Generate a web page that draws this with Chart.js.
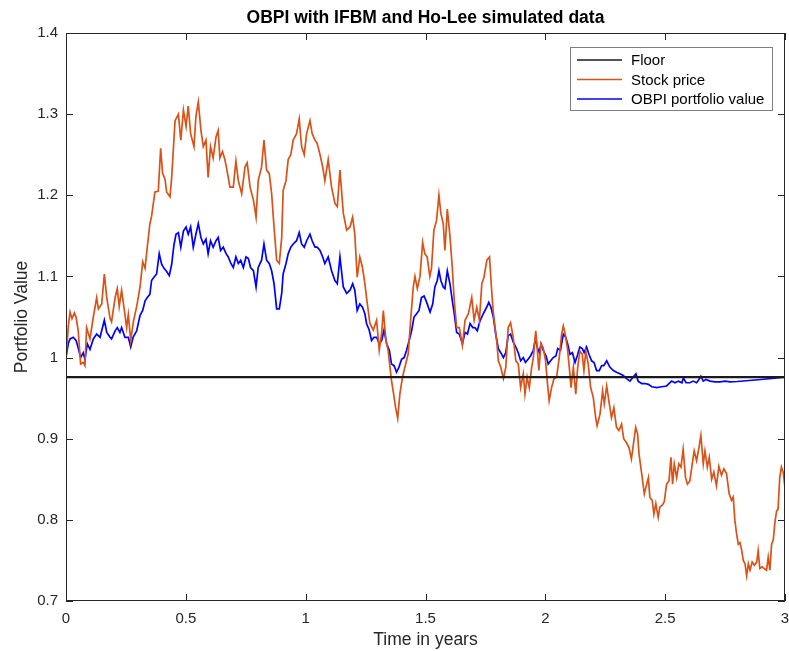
<!DOCTYPE html>
<html>
<head>
<meta charset="utf-8">
<script src="https://cdn.jsdelivr.net/npm/chart.js@4.4.1/dist/chart.umd.min.js"></script>
<style>
  html, body { margin: 0; padding: 0; background: #fff; }
  #wrap { width: 789px; height: 651px; }
</style>
</head>
<body>
<div id="wrap"><canvas id="myChart" width="789" height="651"></canvas></div>
<script>
// time in years / values
const stockTime = [0.000,0.010,0.017,0.025,0.035,0.042,0.051,0.061,0.072,0.079,0.086,0.100,0.114,0.128,0.135,0.149,0.160,0.170,0.184,0.190,0.205,0.214,0.222,0.232,0.246,0.253,0.260,0.270,0.281,0.295,0.309,0.320,0.330,0.339,0.350,0.357,0.371,0.385,0.395,0.403,0.413,0.420,0.434,0.441,0.455,0.469,0.479,0.490,0.501,0.510,0.520,0.534,0.542,0.552,0.563,0.573,0.584,0.593,0.603,0.614,0.626,0.635,0.642,0.653,0.663,0.674,0.684,0.698,0.709,0.719,0.733,0.747,0.756,0.768,0.782,0.793,0.802,0.816,0.826,0.837,0.848,0.858,0.868,0.879,0.890,0.900,0.906,0.918,0.927,0.938,0.948,0.962,0.973,0.983,0.994,1.004,1.018,1.027,1.039,1.048,1.060,1.071,1.080,1.094,1.108,1.122,1.132,1.143,1.157,1.171,1.185,1.196,1.205,1.215,1.226,1.237,1.247,1.254,1.268,1.282,1.296,1.307,1.317,1.324,1.335,1.344,1.358,1.365,1.375,1.384,1.393,1.404,1.414,1.428,1.438,1.449,1.456,1.466,1.477,1.488,1.497,1.507,1.518,1.525,1.535,1.546,1.556,1.564,1.574,1.581,1.591,1.602,1.612,1.620,1.630,1.641,1.654,1.665,1.679,1.693,1.703,1.714,1.725,1.735,1.744,1.756,1.767,1.776,1.783,1.797,1.804,1.814,1.825,1.835,1.845,1.855,1.866,1.877,1.887,1.897,1.908,1.915,1.924,1.933,1.943,1.950,1.960,1.966,1.973,1.982,1.991,2.001,2.008,2.016,2.026,2.036,2.047,2.058,2.068,2.075,2.083,2.092,2.100,2.107,2.117,2.127,2.135,2.144,2.154,2.161,2.169,2.179,2.189,2.200,2.210,2.216,2.228,2.239,2.246,2.256,2.265,2.276,2.286,2.297,2.307,2.318,2.327,2.339,2.349,2.359,2.366,2.377,2.385,2.391,2.402,2.413,2.423,2.430,2.436,2.446,2.453,2.461,2.471,2.478,2.488,2.496,2.506,2.516,2.524,2.531,2.538,2.548,2.557,2.566,2.575,2.585,2.593,2.603,2.613,2.621,2.631,2.641,2.649,2.659,2.666,2.676,2.684,2.694,2.703,2.714,2.724,2.735,2.745,2.756,2.767,2.777,2.784,2.791,2.798,2.805,2.812,2.819,2.826,2.833,2.840,2.847,2.854,2.863,2.872,2.882,2.888,2.895,2.905,2.913,2.923,2.930,2.937,2.944,2.951,2.958,2.965,2.971,2.978,2.985,2.992,3.000];
const stockPrice = [1.000,1.040,1.056,1.048,1.055,1.050,1.033,0.992,0.994,0.990,1.037,1.023,1.050,1.074,1.060,1.066,1.103,1.074,1.048,1.044,1.074,1.085,1.063,1.083,1.053,1.037,1.053,1.021,1.044,1.063,1.087,1.118,1.110,1.136,1.165,1.174,1.204,1.205,1.258,1.227,1.220,1.204,1.198,1.222,1.292,1.300,1.268,1.305,1.285,1.310,1.276,1.260,1.297,1.315,1.280,1.260,1.268,1.222,1.260,1.246,1.272,1.280,1.246,1.254,1.244,1.227,1.210,1.210,1.242,1.218,1.202,1.235,1.240,1.210,1.194,1.173,1.218,1.235,1.268,1.231,1.227,1.202,1.161,1.120,1.116,1.148,1.206,1.218,1.244,1.250,1.268,1.276,1.294,1.260,1.250,1.276,1.292,1.276,1.268,1.264,1.250,1.235,1.218,1.244,1.210,1.190,1.186,1.231,1.178,1.157,1.161,1.173,1.152,1.099,1.124,1.111,1.091,1.074,1.042,1.034,1.046,1.009,1.030,1.058,1.021,1.009,0.972,0.959,0.939,0.925,0.955,0.976,0.988,1.005,1.046,1.087,1.100,1.085,1.100,1.142,1.128,1.124,1.100,1.110,1.157,1.169,1.200,1.178,1.165,1.132,1.183,1.150,1.110,1.070,1.037,1.037,1.015,1.046,1.054,1.074,1.046,1.062,1.046,1.091,1.099,1.120,1.124,1.083,1.055,1.021,0.996,0.988,0.974,0.988,1.037,1.043,1.025,0.996,0.992,0.963,0.980,0.955,0.976,0.963,0.988,1.000,1.033,1.012,0.984,1.017,1.012,0.996,0.971,0.947,0.963,0.974,0.976,1.000,1.029,1.039,1.029,1.012,0.988,0.963,0.988,0.955,0.988,1.008,1.004,0.984,1.008,0.992,0.963,0.951,0.926,0.916,0.930,0.959,0.943,0.965,0.947,0.926,0.938,0.914,0.910,0.918,0.900,0.895,0.889,0.875,0.890,0.914,0.906,0.881,0.857,0.832,0.844,0.852,0.828,0.824,0.807,0.820,0.803,0.816,0.818,0.822,0.844,0.848,0.877,0.844,0.869,0.852,0.869,0.865,0.887,0.852,0.844,0.848,0.869,0.885,0.873,0.889,0.904,0.869,0.885,0.865,0.877,0.850,0.859,0.842,0.866,0.855,0.863,0.857,0.832,0.824,0.828,0.799,0.783,0.770,0.772,0.763,0.750,0.746,0.731,0.746,0.738,0.748,0.744,0.748,0.762,0.740,0.742,0.740,0.738,0.754,0.738,0.770,0.775,0.797,0.811,0.813,0.852,0.865,0.859,0.840];

const obpiTime = [0.000,0.010,0.017,0.030,0.042,0.050,0.061,0.072,0.079,0.089,0.100,0.114,0.128,0.142,0.160,0.170,0.184,0.190,0.205,0.214,0.225,0.232,0.246,0.260,0.270,0.280,0.295,0.309,0.320,0.330,0.339,0.350,0.357,0.367,0.378,0.389,0.399,0.409,0.420,0.431,0.441,0.450,0.459,0.469,0.479,0.490,0.501,0.510,0.520,0.531,0.542,0.552,0.563,0.573,0.584,0.593,0.603,0.614,0.626,0.635,0.645,0.656,0.668,0.677,0.688,0.698,0.709,0.719,0.729,0.740,0.751,0.761,0.770,0.782,0.793,0.802,0.816,0.826,0.837,0.848,0.858,0.868,0.879,0.890,0.900,0.906,0.918,0.927,0.938,0.948,0.962,0.973,0.983,0.994,1.004,1.018,1.027,1.039,1.048,1.060,1.071,1.080,1.094,1.108,1.122,1.132,1.143,1.157,1.171,1.185,1.196,1.205,1.215,1.226,1.237,1.247,1.254,1.265,1.275,1.285,1.296,1.307,1.317,1.327,1.338,1.349,1.358,1.369,1.379,1.389,1.400,1.411,1.421,1.432,1.442,1.452,1.463,1.473,1.483,1.494,1.505,1.519,1.530,1.539,1.549,1.556,1.564,1.574,1.581,1.591,1.602,1.612,1.620,1.630,1.641,1.654,1.665,1.675,1.686,1.697,1.706,1.716,1.727,1.741,1.755,1.764,1.773,1.783,1.793,1.804,1.814,1.825,1.835,1.845,1.855,1.866,1.877,1.887,1.897,1.908,1.917,1.928,1.938,1.950,1.960,1.966,1.975,1.982,1.991,2.003,2.012,2.022,2.033,2.044,2.052,2.063,2.075,2.085,2.093,2.103,2.113,2.124,2.133,2.144,2.154,2.162,2.172,2.182,2.193,2.203,2.214,2.225,2.235,2.244,2.256,2.266,2.270,2.284,2.297,2.311,2.325,2.339,2.353,2.367,2.378,2.387,2.402,2.416,2.430,2.444,2.465,2.485,2.506,2.520,2.527,2.541,2.555,2.570,2.576,2.587,2.603,2.617,2.631,2.641,2.649,2.659,2.670,2.687,2.708,2.729,2.750,2.770,2.800,2.900,3.000];
const obpiValue = [1.000,1.018,1.023,1.025,1.021,1.013,1.000,1.006,0.998,1.017,1.010,1.023,1.029,1.025,1.046,1.031,1.025,1.023,1.033,1.037,1.031,1.037,1.025,1.025,1.013,1.025,1.033,1.052,1.058,1.070,1.074,1.078,1.095,1.099,1.103,1.128,1.115,1.110,1.106,1.101,1.115,1.138,1.152,1.154,1.136,1.156,1.161,1.152,1.161,1.136,1.152,1.165,1.148,1.140,1.146,1.128,1.144,1.136,1.144,1.148,1.132,1.136,1.128,1.124,1.116,1.111,1.124,1.116,1.120,1.111,1.124,1.122,1.111,1.107,1.087,1.111,1.120,1.140,1.120,1.116,1.107,1.091,1.060,1.060,1.079,1.103,1.116,1.128,1.136,1.140,1.144,1.154,1.140,1.136,1.144,1.152,1.144,1.136,1.136,1.132,1.124,1.116,1.124,1.107,1.095,1.091,1.124,1.087,1.079,1.083,1.091,1.083,1.058,1.066,1.062,1.054,1.042,1.034,1.021,1.025,1.025,1.017,1.021,1.034,1.017,1.009,0.992,0.990,0.982,0.988,0.998,1.000,1.009,1.021,1.033,1.050,1.054,1.058,1.074,1.076,1.068,1.056,1.066,1.087,1.095,1.107,1.095,1.087,1.085,1.107,1.091,1.070,1.054,1.031,1.029,1.017,1.031,1.029,1.042,1.037,1.037,1.033,1.045,1.054,1.062,1.068,1.062,1.050,1.029,1.011,1.006,1.000,1.006,1.027,1.029,1.019,1.013,1.006,0.996,1.000,0.994,0.998,1.002,1.009,1.025,1.013,1.006,1.017,1.009,1.002,0.992,0.996,1.000,1.002,1.011,1.009,1.029,1.025,1.017,1.004,1.006,0.994,1.002,1.013,1.011,1.006,1.013,1.004,0.996,0.994,0.984,0.984,0.990,0.990,0.996,0.990,0.988,0.984,0.982,0.980,0.978,0.974,0.971,0.976,0.980,0.971,0.968,0.968,0.967,0.964,0.963,0.964,0.965,0.969,0.971,0.969,0.971,0.969,0.975,0.969,0.969,0.971,0.969,0.973,0.977,0.971,0.973,0.971,0.970,0.970,0.971,0.970,0.9705,0.973,0.976];

const floorTime = [0, 3];
const floorValue = [0.976, 0.976];

const xTicks = [0, 0.5, 1, 1.5, 2, 2.5, 3];
const yTicks = [0.7, 0.8, 0.9, 1.0, 1.1, 1.2, 1.3, 1.4];

const txtColor = '#262626';
const fontFam = '"Liberation Sans", Arial, Helvetica, sans-serif';

function toPoints(ts, vs){
    return ts.map(function(t, i){ return {x: t, y: vs[i]}; });
}

// MATLAB-like box, inward ticks, title and legend
const matlabLook = {
    id: 'matlabLook',
    afterDatasetsDraw(chart){
        const c = chart.ctx;
        const a = chart.chartArea;
        const xs = chart.scales.x, ys = chart.scales.y;
        c.save();
        c.strokeStyle = txtColor;
        c.lineWidth = 1;
        c.strokeRect(a.left + 0.5, a.top + 0.5, a.right - a.left - 1, a.bottom - a.top - 1);
        c.beginPath();
        xTicks.forEach(function(t){
            const px = Math.round(xs.getPixelForValue(t)) + 0.5;
            c.moveTo(px, a.bottom); c.lineTo(px, a.bottom - 7);
            c.moveTo(px, a.top); c.lineTo(px, a.top + 7);
        });
        yTicks.forEach(function(t){
            const py = Math.round(ys.getPixelForValue(t)) + 0.5;
            c.moveTo(a.left, py); c.lineTo(a.left + 7, py);
            c.moveTo(a.right, py); c.lineTo(a.right - 7, py);
        });
        c.stroke();

        // title
        c.fillStyle = '#000';
        c.font = 'bold 17.5px ' + fontFam;
        c.textAlign = 'center';
        c.textBaseline = 'middle';
        c.fillText('OBPI with IFBM and Ho-Lee simulated data', (a.left + a.right) / 2, 18);

        // legend
        const lx = 570, ly = 47, lw = 202, lh = 63;
        c.fillStyle = '#fff';
        c.fillRect(lx, ly, lw, lh);
        c.strokeStyle = '#7f7f7f';
        c.lineWidth = 1;
        c.strokeRect(lx + 0.5, ly + 0.5, lw, lh);
        c.font = '15px ' + fontFam;
        c.textAlign = 'left';
        chart.data.datasets.forEach(function(ds, i){
            const yy = ly + 13 + i * 19.5;
            c.strokeStyle = ds.borderColor;
            c.lineWidth = 1.6;
            c.beginPath();
            c.moveTo(lx + 7, yy); c.lineTo(lx + 52, yy);
            c.stroke();
            c.fillStyle = '#000';
            c.fillText(ds.label, lx + 61, yy + 1);
        });
        c.restore();
    }
};

const ctx = document.getElementById('myChart').getContext('2d');
const MyChart = new Chart(ctx, {
    type: 'line',
    data: {
        datasets: [
            {
                label: 'Floor',
                data: toPoints(floorTime, floorValue),
                borderColor: '#1a1a1a',
                borderWidth: 2.2,
                pointRadius: 0
            },
            {
                label: 'Stock price',
                data: toPoints(stockTime, stockPrice),
                borderColor: '#D95319',
                borderWidth: 1.7,
                pointRadius: 0
            },
            {
                label: 'OBPI portfolio value',
                data: toPoints(obpiTime, obpiValue),
                borderColor: '#0000FF',
                borderWidth: 1.7,
                pointRadius: 0
            }
        ]
    },
    options: {
        responsive: false,
        animation: false,
        layout: { padding: { left: 0, right: 4, top: 33, bottom: 0 } },
        plugins: {
            legend: { display: false },
            tooltip: { enabled: false },
            title: { display: false }
        },
        scales: {
            x: {
                type: 'linear',
                min: 0, max: 3,
                afterBuildTicks: function(s){ s.ticks = xTicks.map(function(v){ return {value: v}; }); },
                afterFit: function(s){ s.height = 50; s.paddingLeft = 0; s.paddingRight = 0; },
                grid: { display: false, drawTicks: false },
                border: { display: false },
                ticks: {
                    color: txtColor,
                    font: { size: 15, family: fontFam },
                    padding: 9,
                    maxRotation: 0,
                    callback: function(v){ return String(v); }
                },
                title: {
                    display: true,
                    text: 'Time in years',
                    color: txtColor,
                    font: { size: 17.5, family: fontFam },
                    padding: { top: 0, bottom: 0 }
                }
            },
            y: {
                min: 0.7, max: 1.4,
                afterBuildTicks: function(s){ s.ticks = yTicks.map(function(v){ return {value: v}; }); },
                afterFit: function(s){ s.width = 66; },
                grid: { display: false, drawTicks: false },
                border: { display: false },
                ticks: {
                    color: txtColor,
                    font: { size: 15, family: fontFam },
                    padding: 8,
                    callback: function(v){ return String(Number(v.toFixed(1))); }
                },
                title: {
                    display: true,
                    text: 'Portfolio Value',
                    color: txtColor,
                    font: { size: 17.5, family: fontFam },
                    padding: { top: 12, bottom: 4 }
                }
            }
        }
    },
    plugins: [matlabLook]
});
</script>
</body>
</html>
